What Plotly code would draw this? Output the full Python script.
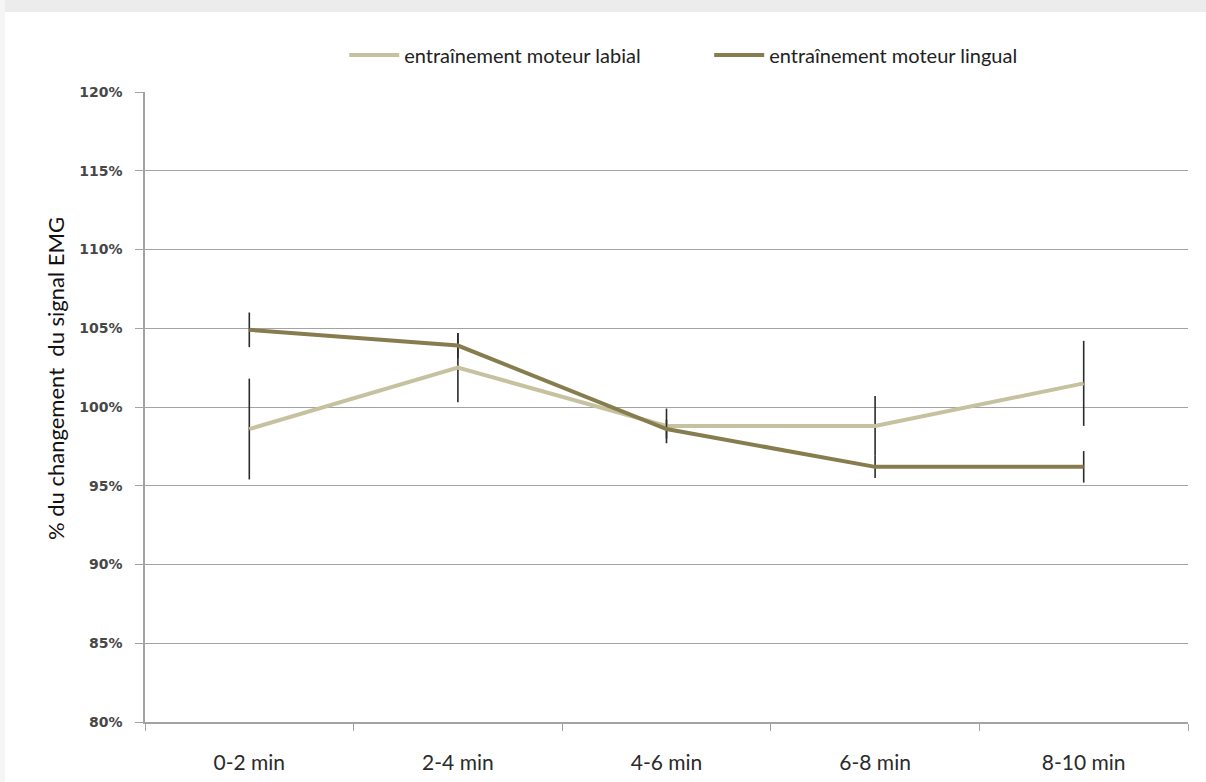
import plotly.graph_objects as go

periods = ["0-2 min", "2-4 min", "4-6 min", "6-8 min", "8-10 min"]

labial = [98.6, 102.5, 98.8, 98.8, 101.5]
labial_err = [3.2, 2.2, 1.1, 1.9, 2.7]

lingual = [104.9, 103.9, 98.6, 96.2, 96.2]
lingual_err = [1.1, 0.8, 0.6, 0.7, 1.0]

labial_color = "#C6C29F"
lingual_color = "#877C4E"
grid_color = "#A3A3A3"
text_font = "Lato, 'Open Sans', sans-serif"

fig = go.Figure()

fig.add_trace(go.Scatter(
    x=periods,
    y=labial,
    mode="lines",
    name="entraînement moteur labial",
    line=dict(color=labial_color, width=4),
    error_y=dict(type="data", array=labial_err, visible=True,
                 color="#2B2B2B", thickness=1.6, width=0),
))

fig.add_trace(go.Scatter(
    x=periods,
    y=lingual,
    mode="lines",
    name="entraînement moteur lingual",
    line=dict(color=lingual_color, width=4),
    error_y=dict(type="data", array=lingual_err, visible=True,
                 color="#2B2B2B", thickness=1.6, width=0),
))

# light shadow along the top and left edge of the picture
fig.add_shape(type="rect", xref="paper", yref="paper",
              x0=-0.2, x1=1.1, y0=1.0 + 80 / 630, y1=1.3,
              fillcolor="#ECECEC", line=dict(width=0), layer="below")
fig.add_shape(type="rect", xref="paper", yref="paper",
              x0=-0.2, x1=-140 / 1043, y0=-0.2, y1=1.3,
              fillcolor="#F5F5F5", line=dict(width=0), layer="below")

# y axis title, placed a little above the middle as in the original
fig.add_annotation(
    text="% du changement  du signal EMG",
    xref="paper", yref="paper",
    x=-90 / 1043, y=343 / 630,
    xanchor="center", yanchor="middle",
    textangle=-90,
    showarrow=False,
    font=dict(family=text_font, size=22, color="#111111"),
)

fig.update_layout(
    width=1206,
    height=782,
    margin=dict(l=145, r=18, t=92, b=60),
    paper_bgcolor="white",
    plot_bgcolor="white",
    showlegend=True,
    legend=dict(
        orientation="h",
        x=0.191, y=1.0587,
        xanchor="left", yanchor="middle",
        font=dict(family=text_font, size=20, color="#222222"),
        itemwidth=50,
        entrywidth=300,
        entrywidthmode="pixels",
        bgcolor="rgba(0,0,0,0)",
    ),
    xaxis=dict(
        type="category",
        automargin=False,
        showgrid=False,
        showline=True,
        linecolor=grid_color,
        linewidth=1.5,
        ticks="outside",
        tickson="boundaries",
        ticklen=7,
        tickcolor=grid_color,
        ticklabelstandoff=21,
        tickfont=dict(family=text_font, size=21, color="#2A2A2A"),
        range=[-0.5, 4.5],
    ),
    yaxis=dict(
        range=[80, 120],
        automargin=False,
        dtick=5,
        ticksuffix="%",
        showgrid=True,
        gridcolor=grid_color,
        gridwidth=1.3,
        showline=True,
        linecolor=grid_color,
        linewidth=1.5,
        ticks="outside",
        ticklen=8,
        tickcolor=grid_color,
        ticklabelstandoff=10,
        zeroline=False,
        tickfont=dict(family="DejaVu Sans", size=14, color="#474747", weight="bold"),
    ),
)

fig.write_html("out.html", config={"displayModeBar": False},
               post_script="document.body.style.margin = '0';")
